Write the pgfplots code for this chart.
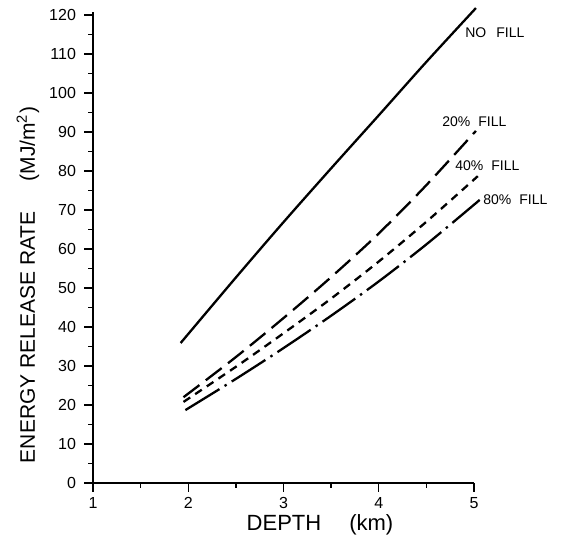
\documentclass[border=0pt]{standalone}
\usepackage{fontspec}
\setmainfont{Liberation Sans}
\usepackage{pgfplots}
\pgfplotsset{compat=1.18}

\begin{document}
\begin{tikzpicture}
\useasboundingbox (-46.5pt,-28pt) rectangle (242pt,241.5pt);
\begin{axis}[
    scale only axis,
    width=190.5pt, height=235.5pt,
    xmin=1, xmax=5, ymin=0, ymax=120.8,
    axis x line*=bottom, axis y line*=left,
    axis line style={line width=0.9pt},
    xtick={1,2,3,4,5}, ytick={0,10,...,120},
    minor x tick num=1, minor y tick num=1,
    tick align=outside,
    major tick length=4.5pt, minor tick length=2.5pt,
    tick style={line width=0.7pt, black},
    tick label style={font=\fontsize{8}{9}\selectfont},
    /pgf/number format/assume math mode=true,
    yticklabel style={xshift=-0.5pt},
    xticklabel style={yshift=1pt},
    clip=false,
]
% no fill
\addplot[black, line width=1.15pt, smooth] coordinates {
  (1.92,35.9) (2.5,52.7) (3,66.9) (3.5,80.7) (4,94.3) (4.5,108) (5.02,121.8)
};
% 20% fill
\addplot[black, line width=1.15pt, smooth, dash pattern=on 10pt off 4pt] coordinates {
  (1.95,22) (2.5,32.3) (3,42.3) (3.5,52.8) (4,64) (4.5,76.4) (5.02,90.3)
};
% 40% fill
\addplot[black, line width=1.15pt, smooth, dash pattern=on 4pt off 3pt] coordinates {
  (1.95,20.8) (2.5,29.8) (3,38.4) (3.5,47.3) (4,56.8) (4.5,67) (5.04,78.7)
};
% 80% fill
\addplot[black, line width=1.15pt, smooth, dash pattern=on 20pt off 3pt on 1.2pt off 3pt] coordinates {
  (1.97,18.7) (2.5,26.7) (3,34.6) (3.5,42.9) (4,51.7) (4.5,61.2) (5.06,72.6)
};
\begin{scope}[every node/.style={anchor=west, inner sep=0pt, font=\fontsize{7}{8}\selectfont}]
\node at (axis cs:4.905,115.6) {NO\hspace{5pt}FILL};
\node at (axis cs:4.664,92.6) {20\%\hspace{4pt}FILL};
\node at (axis cs:4.80,81.5) {40\%\hspace{4pt}FILL};
\node at (axis cs:5.094,72.6) {80\%\hspace{4pt}FILL};
\end{scope}
\end{axis}
\node[rotate=90, font=\fontsize{10.5}{12}\selectfont, inner sep=0pt] at (-32.5pt,99pt)
  {ENERGY RELEASE RATE\hspace{15pt}(MJ/m\textsuperscript{2})};
\node[font=\fontsize{11}{12}\selectfont, inner sep=0pt] at (113.5pt,-21pt)
  {DEPTH\hspace{14pt}(km)};
\end{tikzpicture}
\end{document}
